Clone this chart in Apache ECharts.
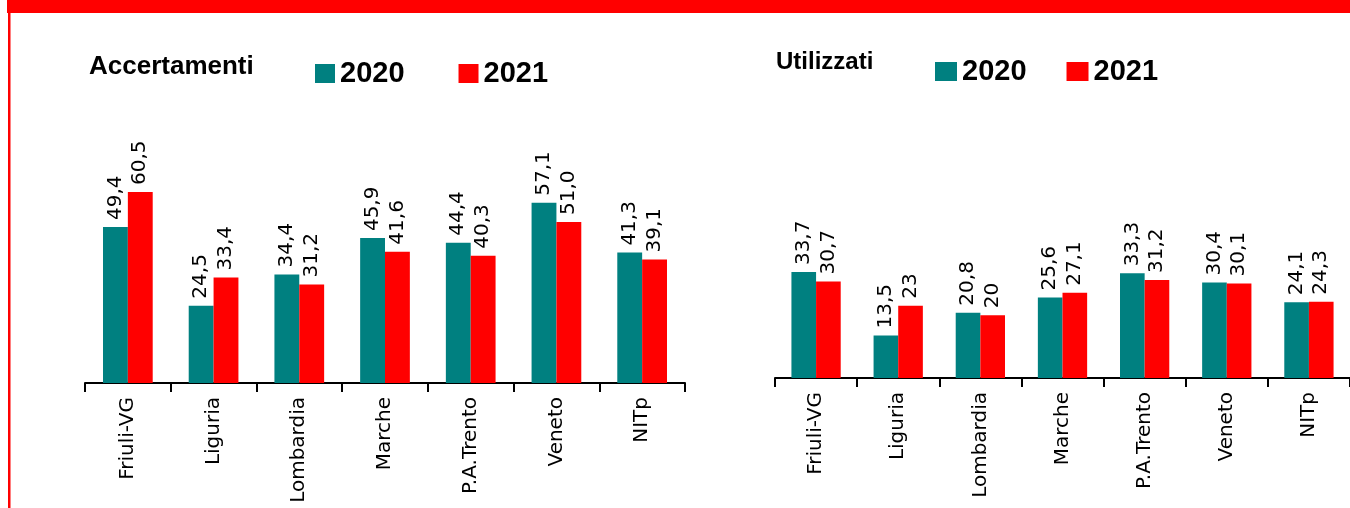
<!DOCTYPE html>
<html>
<head>
<meta charset="utf-8">
<script src="https://cdn.jsdelivr.net/npm/echarts@6/dist/echarts.min.js"></script>
<style>
  html, body { margin: 0; padding: 0; background: #fff; }
  #myChart { width: 1350px; height: 508px; }
</style>
</head>
<body>
<div id="myChart"></div>
<script>
  // dati
  var regioni = ['Friuli-VG', 'Liguria', 'Lombardia', 'Marche', 'P.A.Trento', 'Veneto', 'NITp'];
  var anni = ['2020', '2021'];
  var accertamenti2020 = [49.4, 24.5, 34.4, 45.9, 44.4, 57.1, 41.3];
  var accertamenti2021 = [60.5, 33.4, 31.2, 41.6, 40.3, 51.0, 39.1];
  var utilizzati2020 = [33.7, 13.5, 20.8, 25.6, 33.3, 30.4, 24.1];
  var utilizzati2021 = [30.7, 23, 20, 27.1, 31.2, 30.1, 24.3];

  var teal = '#008080';
  var red = '#ff0000';
  var labelFont = 'DejaVu Sans';
  var titleFont = 'Liberation Sans';

  function valueLabel(fixed) {
    return {
      show: true,
      position: 'top',
      rotate: 90,
      align: 'left',
      verticalAlign: 'middle',
      distance: 7,
      color: '#000',
      fontFamily: labelFont,
      fontSize: 20,
      formatter: function (p) {
        var s = fixed ? p.value.toFixed(1) : String(p.value);
        return s.replace('.', ',');
      }
    };
  }

  function xAxis(gridIndex) {
    return {
      type: 'category',
      gridIndex: gridIndex,
      data: regioni,
      axisLine: { lineStyle: { color: '#000', width: 2 } },
      axisTick: { show: true, inside: false, length: 9, lineStyle: { color: '#000', width: 2 } },
      axisLabel: {
        interval: 0,
        rotate: 90,
        margin: 14,
        color: '#000',
        fontFamily: labelFont,
        fontSize: 20
      }
    };
  }

  function yAxis(gridIndex) {
    return {
      type: 'value',
      gridIndex: gridIndex,
      min: 0,
      max: 70,
      show: false,
      splitLine: { show: false }
    };
  }

  function serie(name, data, color, idx, gap, fixed) {
    return {
      type: 'bar',
      name: name,
      xAxisIndex: idx,
      yAxisIndex: idx,
      data: data,
      barGap: '0%',
      barCategoryGap: gap,
      itemStyle: { color: color },
      label: valueLabel(fixed),
      animation: false
    };
  }

  function legenda(left, top, iconW, gap) {
    return {
      left: left,
      top: top,
      padding: 0,
      data: anni,
      icon: 'rect',
      itemWidth: iconW,
      itemHeight: 19,
      itemGap: gap,
      selectedMode: false,
      textStyle: { color: '#000', fontFamily: titleFont, fontWeight: 'bold', fontSize: 29 }
    };
  }

  var myChart = echarts.init(document.getElementById('myChart'));
  myChart.setOption({
    animation: false,
    title: [
      {
        text: 'Accertamenti', left: 89, top: 54, padding: 0,
        textStyle: { color: '#000', fontFamily: titleFont, fontWeight: 'bold', fontSize: 26 }
      },
      {
        text: 'Utilizzati', left: 776, top: 50, padding: 0,
        textStyle: { color: '#000', fontFamily: titleFont, fontWeight: 'bold', fontSize: 24 }
      }
    ],
    legend: [
      legenda(315, 59, 20, 54),
      legenda(935, 57, 22, 40)
    ],
    grid: [
      { left: 85, right: 665, top: 162, bottom: 125 },
      { left: 775, right: 0, top: 158, bottom: 130 }
    ],
    xAxis: [xAxis(0), xAxis(1)],
    yAxis: [yAxis(0), yAxis(1)],
    series: [
      serie('2020', accertamenti2020, teal, 0, '42%', true),
      serie('2021', accertamenti2021, red, 0, '42%', true),
      serie('2020', utilizzati2020, teal, 1, '40%', false),
      serie('2021', utilizzati2021, red, 1, '40%', false)
    ],
    // cornice rossa
    graphic: [
      { type: 'rect', shape: { x: 7, y: 0, width: 1343, height: 13 }, style: { fill: red }, silent: true },
      { type: 'rect', shape: { x: 8, y: 13, width: 2.5, height: 495 }, style: { fill: red }, silent: true }
    ]
  });
</script>
</body>
</html>
